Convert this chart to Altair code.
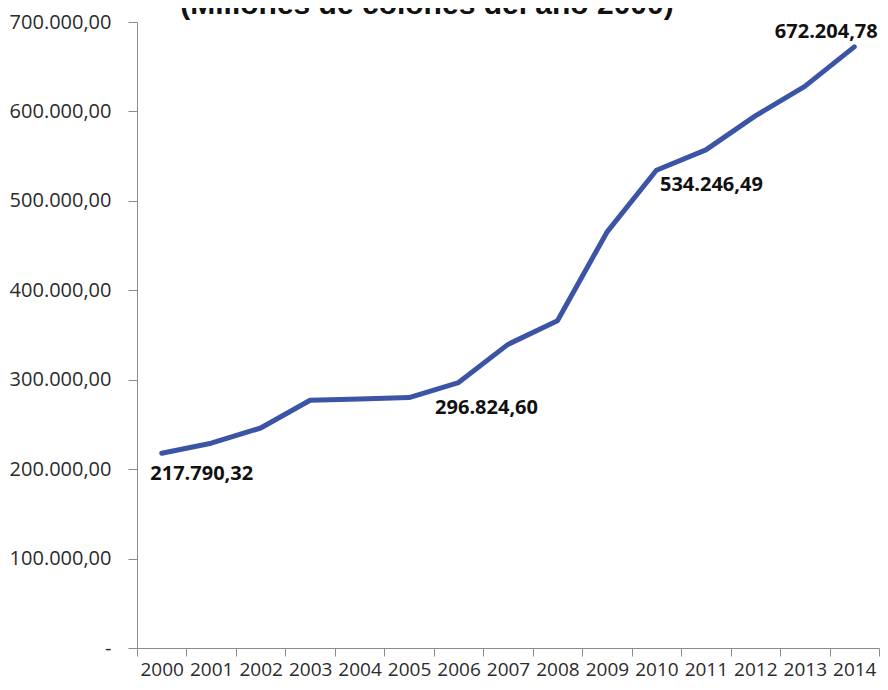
import altair as alt
import pandas as pd

years = [2000, 2001, 2002, 2003, 2004, 2005, 2006, 2007, 2008, 2009, 2010, 2011, 2012, 2013, 2014]
values = [217790.32, 229000, 246000, 277000, 278500, 280000, 296824.60, 339500, 366000,
          465000, 534246.49, 557000, 595000, 628000, 672204.78]
label_years = [2000, 2006, 2010, 2014]
label_texts = ["217.790,32", "296.824,60", "534.246,49", "672.204,78"]
y_ticks = [0, 100000, 200000, 300000, 400000, 500000, 600000, 700000]
title_text = "(Millones de colones del año 2000)"

df = pd.DataFrame({"year": [str(y) for y in years], "value": values})
lab = pd.DataFrame({
    "year": [str(y) for y in label_years],
    "value": [values[years.index(y)] for y in label_years],
    "text": label_texts,
})
tdf = pd.DataFrame({"t": [title_text]})

AXIS_COLOR = "#8C8C8C"
TEXT_COLOR = "#2B2B2B"
FONT = "Open Sans"

x_enc = alt.X(
    "year:O",
    bandPosition=0.5,
    scale=alt.Scale(type="band", paddingInner=0, paddingOuter=0),
    axis=alt.Axis(
        title=None, labelAngle=0, tickBand="extent", grid=False,
        domainColor=AXIS_COLOR, tickColor=AXIS_COLOR, tickSize=8,
        labelPadding=4, labelFont=FONT, labelFontSize=19, labelColor=TEXT_COLOR,
    ),
)
y_enc = alt.Y(
    "value:Q",
    scale=alt.Scale(domain=[0, 700000], nice=False),
    axis=alt.Axis(
        title=None, values=y_ticks, grid=False,
        labelExpr="datum.value == 0 ? '-' : replace(replace(replace(format(datum.value, ',.2f'), ',', '#'), '.', ','), '#', '.')",
        domainColor=AXIS_COLOR, tickColor=AXIS_COLOR, tickSize=9,
        labelPadding=17, labelFont=FONT, labelFontSize=20, labelColor=TEXT_COLOR,
    ),
)

line = alt.Chart(df).mark_line(
    color="#3B54A6", strokeWidth=5, strokeCap="round", strokeJoin="round"
).encode(x=x_enc, y=y_enc)

offsets = {2000: (40, 21), 2006: (28, 25), 2010: (55, 15), 2014: (-28, -15)}
label_layers = []
for yr in label_years:
    dx, dy = offsets[yr]
    label_layers.append(
        alt.Chart(lab).transform_filter(alt.datum.year == str(yr)).mark_text(
            font=FONT, fontSize=20, fontWeight="bold", color="#111111",
            align="center", baseline="middle", dx=dx, dy=dy,
        ).encode(x=x_enc, y=y_enc, text="text:N")
    )

title = alt.Chart(tdf).mark_text(
    font="Liberation Sans", fontSize=30, fontWeight="bold", color="#111111",
    align="center", baseline="alphabetic",
).encode(x=alt.value(290), y=alt.value(-8), text="t:N")

chart = alt.layer(line, *label_layers, title).properties(
    width=742, height=626,
    autosize=alt.AutoSizeParams(type="none"),
    padding={"left": 129, "top": 14, "right": 1, "bottom": 32},
).configure_view(stroke=None)

chart.save("out.html", embed_options={"renderer": "svg", "actions": False})
